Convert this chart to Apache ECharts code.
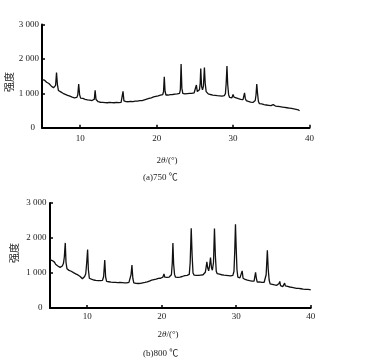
<!DOCTYPE html>
<html><head><meta charset="utf-8">
<script src="https://cdn.jsdelivr.net/npm/echarts@6/dist/echarts.min.js"></script>
<style>html,body{margin:0;padding:0;background:#fff}#c{width:385px;height:360px}</style>
</head><body><div id="c"></div>
<script>
// two-theta (deg) vs intensity
const pattern750 = [[5.0,1400],[5.15,1370],[5.3,1385],[5.45,1330],[5.6,1320],[5.75,1270],[5.9,1285],[6.05,1230],[6.2,1215],[6.35,1170],[6.5,1160],[6.65,1150],[6.78,1230],[6.9,1600],[7.02,1250],[7.15,1080],[7.3,1095],[7.45,1040],[7.6,1050],[7.75,1000],[7.9,1010],[8.05,970],[8.2,985],[8.35,940],[8.5,955],[8.65,915],[8.8,930],[8.95,890],[9.1,905],[9.25,870],[9.4,895],[9.55,880],[9.68,950],[9.8,1270],[9.92,960],[10.05,860],[10.2,835],[10.35,850],[10.5,810],[10.65,825],[10.8,790],[10.95,810],[11.1,780],[11.25,800],[11.4,770],[11.55,790],[11.7,775],[11.85,830],[11.95,1090],[12.07,820],[12.2,770],[12.35,755],[12.5,775],[12.65,740],[12.8,765],[12.95,735],[13.1,760],[13.25,730],[13.4,755],[13.55,725],[13.7,750],[13.85,735],[14.0,760],[14.15,730],[14.3,750],[14.45,725],[14.6,755],[14.75,735],[14.9,760],[15.05,730],[15.2,750],[15.35,735],[15.5,790],[15.6,1055],[15.72,780],[15.85,725],[16.0,760],[16.15,730],[16.3,755],[16.45,740],[16.6,765],[16.75,735],[16.9,760],[17.05,740],[17.2,770],[17.35,745],[17.5,775],[17.65,755],[17.8,785],[17.95,765],[18.1,790],[18.25,780],[18.4,810],[18.55,795],[18.7,830],[18.85,815],[19.0,850],[19.15,835],[19.3,870],[19.45,860],[19.6,895],[19.75,880],[19.9,910],[20.05,895],[20.2,925],[20.35,910],[20.5,945],[20.65,930],[20.8,965],[20.9,1050],[21.0,1480],[21.1,1060],[21.22,950],[21.35,975],[21.5,950],[21.65,985],[21.8,960],[21.95,990],[22.1,965],[22.25,1000],[22.4,975],[22.55,1010],[22.7,985],[22.85,1020],[23.0,1000],[23.1,1100],[23.2,1850],[23.3,1150],[23.42,1000],[23.55,1020],[23.7,985],[23.85,1010],[24.0,990],[24.15,1020],[24.3,995],[24.45,1030],[24.6,1000],[24.75,1040],[24.9,1010],[25.05,1060],[25.2,1240],[25.32,1050],[25.45,1080],[25.6,1100],[25.7,1300],[25.77,1720],[25.88,1200],[26.0,1100],[26.12,1200],[26.25,1750],[26.35,1300],[26.48,1050],[26.6,1010],[26.75,985],[26.9,1000],[27.05,965],[27.2,980],[27.35,950],[27.5,975],[27.65,940],[27.8,960],[27.95,930],[28.1,955],[28.25,925],[28.4,945],[28.55,920],[28.7,940],[28.85,930],[29.0,990],[29.1,1300],[29.2,1790],[29.3,1250],[29.42,960],[29.55,880],[29.7,895],[29.85,870],[30.0,970],[30.12,890],[30.25,860],[30.4,870],[30.55,835],[30.7,845],[30.85,815],[31.0,825],[31.15,795],[31.3,815],[31.42,860],[31.5,1015],[31.6,850],[31.72,790],[31.85,805],[32.0,765],[32.15,780],[32.3,745],[32.45,765],[32.6,735],[32.75,760],[32.9,790],[33.0,950],[33.1,1270],[33.2,1000],[33.32,760],[33.45,700],[33.6,675],[33.75,690],[33.9,655],[34.05,670],[34.2,640],[34.35,660],[34.5,630],[34.65,650],[34.8,620],[34.95,640],[35.1,630],[35.25,670],[35.4,615],[35.55,630],[35.7,600],[35.85,620],[36.0,590],[36.15,610],[36.3,580],[36.45,600],[36.6,570],[36.75,590],[36.9,560],[37.05,580],[37.2,555],[37.35,570],[37.5,545],[37.65,560],[37.8,530],[37.95,545],[38.1,515],[38.25,530],[38.4,500],[38.55,515],[38.7,490]];

const pattern800 = [[5.0,1380],[5.15,1340],[5.3,1355],[5.45,1300],[5.6,1310],[5.75,1250],[5.9,1260],[6.05,1200],[6.2,1185],[6.35,1160],[6.5,1175],[6.65,1200],[6.8,1270],[6.92,1450],[7.05,1860],[7.15,1300],[7.28,1120],[7.4,1090],[7.55,1075],[7.7,1040],[7.85,1050],[8.0,1000],[8.15,1010],[8.3,960],[8.45,975],[8.6,930],[8.75,945],[8.9,890],[9.05,900],[9.2,850],[9.35,835],[9.5,860],[9.65,900],[9.8,980],[9.93,1300],[10.05,1670],[10.15,1100],[10.28,850],[10.4,810],[10.55,825],[10.7,785],[10.85,800],[11.0,770],[11.15,790],[11.3,765],[11.45,785],[11.6,760],[11.75,780],[11.9,765],[12.05,790],[12.2,900],[12.35,1370],[12.47,880],[12.6,760],[12.75,735],[12.9,750],[13.05,715],[13.2,740],[13.35,710],[13.5,735],[13.65,705],[13.8,730],[13.95,700],[14.1,725],[14.25,700],[14.4,730],[14.55,705],[14.7,725],[14.85,700],[15.0,720],[15.15,695],[15.3,715],[15.45,700],[15.6,730],[15.75,780],[15.88,950],[16.0,1225],[16.12,850],[16.25,720],[16.4,690],[16.55,705],[16.7,680],[16.85,700],[17.0,675],[17.15,705],[17.3,690],[17.45,720],[17.6,700],[17.75,730],[17.9,715],[18.05,745],[18.2,735],[18.35,770],[18.5,760],[18.65,795],[18.8,780],[18.95,810],[19.1,795],[19.25,825],[19.4,810],[19.55,845],[19.7,825],[19.85,850],[20.0,840],[20.15,880],[20.3,970],[20.42,880],[20.55,850],[20.7,875],[20.85,860],[21.0,885],[21.15,870],[21.3,950],[21.42,1300],[21.5,1860],[21.6,1250],[21.72,960],[21.85,880],[22.0,900],[22.15,875],[22.3,905],[22.45,885],[22.6,915],[22.75,900],[22.85,950],[22.95,910],[23.1,925],[23.25,905],[23.4,935],[23.55,915],[23.7,960],[23.82,1300],[23.96,2280],[24.08,1500],[24.2,1000],[24.35,940],[24.5,965],[24.65,935],[24.8,960],[24.95,930],[25.1,960],[25.25,940],[25.4,970],[25.55,950],[25.7,980],[25.85,1020],[25.95,1150],[26.06,1320],[26.17,1150],[26.3,1060],[26.42,1200],[26.55,1440],[26.68,1150],[26.8,1080],[26.95,1300],[27.08,2270],[27.2,1500],[27.32,1050],[27.45,980],[27.6,950],[27.75,965],[27.9,935],[28.05,950],[28.2,925],[28.35,940],[28.5,915],[28.65,935],[28.8,905],[28.95,925],[29.1,900],[29.25,915],[29.4,900],[29.55,930],[29.7,1050],[29.8,1600],[29.9,2390],[30.0,1700],[30.1,1100],[30.22,880],[30.35,840],[30.5,860],[30.65,830],[30.8,1060],[30.92,850],[31.05,800],[31.2,815],[31.35,780],[31.5,795],[31.65,760],[31.8,780],[31.95,750],[32.1,770],[32.25,740],[32.4,770],[32.5,900],[32.6,1020],[32.7,850],[32.82,740],[32.95,725],[33.1,745],[33.25,720],[33.35,800],[33.45,730],[33.6,710],[33.75,735],[33.9,760],[34.02,950],[34.18,1650],[34.3,1100],[34.42,800],[34.55,690],[34.7,660],[34.85,675],[35.0,640],[35.15,660],[35.3,630],[35.45,650],[35.6,625],[35.75,700],[35.85,760],[35.95,640],[36.1,625],[36.25,610],[36.4,640],[36.5,710],[36.6,630],[36.75,600],[36.9,615],[37.05,585],[37.2,600],[37.35,570],[37.5,590],[37.65,560],[37.8,575],[37.95,600],[38.1,560],[38.25,545],[38.4,560],[38.55,530],[38.7,550],[38.85,525],[39.0,540],[39.15,515],[39.3,535],[39.45,510],[39.6,530],[39.75,505],[39.9,525],[40.0,515]];

const xTicks = [10, 20, 30, 40];
const yMin = 0, yMax = 3000, yStep = 1000;
const xMin = 5, xMax = 40;
const yAxisTitle = '强度';
const xAxisTitle = '2{i|θ}/(°)';
const captions = ['(a)750 ℃', '(b)800 ℃'];

const FONT = "'Liberation Serif', 'Times New Roman', 'Noto Sans CJK SC', serif";
const TXT = '#222';

function fmtY(v) {
  if (v === 0) return '{z|0}';
  return (v / 1000) + ' 000';
}

function xAxisCfg(gi, margin) {
  return {
    type: 'value', gridIndex: gi, min: xMin, max: xMax,
    axisLine: { show: true, onZero: false, lineStyle: { color: '#000', width: 2 } },
    axisTick: { show: true, inside: true, length: 3, customValues: xTicks, lineStyle: { color: '#000', width: 1.5 } },
    axisLabel: { customValues: xTicks, margin: margin, fontFamily: FONT, fontSize: 9, color: TXT },
    splitLine: { show: false }
  };
}
function yAxisCfg(gi, margin) {
  return {
    type: 'value', gridIndex: gi, min: yMin, max: yMax, interval: yStep,
    axisLine: { show: true, lineStyle: { color: '#000', width: 2 } },
    axisTick: { show: true, inside: true, length: 3, lineStyle: { color: '#000', width: 1.5 } },
    axisLabel: { margin: margin, fontFamily: FONT, fontSize: 9, color: TXT, formatter: fmtY,
      rich: { z: { fontFamily: FONT, fontSize: 9, color: TXT, padding: [0, 4, 0, 0] } } },
    splitLine: { show: false }
  };
}
function textEl(x, y, text, rot, align, size) {
  return {
    type: 'text', x: x, y: y, rotation: rot || 0,
    style: { text: text, fontFamily: FONT, fontSize: size || 9, fill: TXT, align: align || 'center', verticalAlign: 'middle',
      rich: { i: { fontFamily: FONT, fontSize: size || 9, fontStyle: 'italic', fill: TXT } } }
  };
}

const chart = echarts.init(document.getElementById('c'), null, { renderer: 'canvas' });
chart.setOption({
  animation: false,
  backgroundColor: '#fff',
  grid: [
    { left: 42, top: 24.5, width: 267.5, height: 103.2 },
    { left: 50, top: 203, width: 260.7, height: 105 }
  ],
  xAxis: [xAxisCfg(0, 6), xAxisCfg(1, 4)],
  yAxis: [yAxisCfg(0, 3), yAxisCfg(1, 3.5)],
  series: [
    { type: 'line', xAxisIndex: 0, yAxisIndex: 0, data: pattern750, showSymbol: false, smooth: false,
      lineStyle: { color: '#111', width: 1.3 } },
    { type: 'line', xAxisIndex: 1, yAxisIndex: 1, data: pattern800, showSymbol: false, smooth: false,
      lineStyle: { color: '#111', width: 1.3 } }
  ],
  graphic: [
    textEl(10, 82, yAxisTitle, Math.PI / 2, 'center', 10),
    textEl(15, 253, yAxisTitle, Math.PI / 2, 'center', 10),
    textEl(167, 160.5, xAxisTitle),
    textEl(168, 335, xAxisTitle),
    textEl(143, 178, captions[0], 0, 'left'),
    textEl(143, 354, captions[1], 0, 'left')
  ]
});
</script>
</body></html>
